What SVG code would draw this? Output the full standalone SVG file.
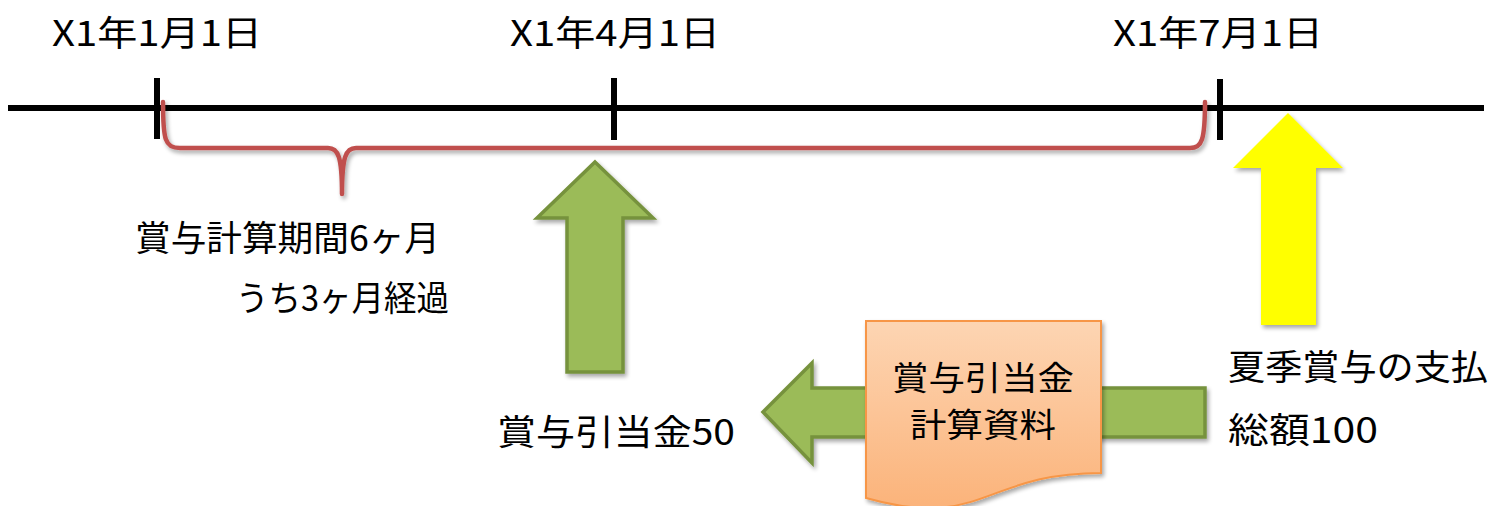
<svg xmlns="http://www.w3.org/2000/svg" width="1492" height="506" viewBox="0 0 1492 506">
<style>
.t{font-family:"Noto Sans CJK JP","Noto Sans",sans-serif;font-size:35px;fill:#000}
.d{font-size:33px}
.g{fill:#9BBB59;stroke:#76923C;stroke-width:3.5;stroke-linejoin:miter}
.axis{stroke:#000;stroke-width:6;fill:none}
</style>
<defs>
<filter id="sh" x="-20%" y="-20%" width="140%" height="140%">
<feGaussianBlur in="SourceAlpha" stdDeviation="2"/>
<feOffset dx="2" dy="3" result="b"/>
<feComponentTransfer><feFuncA type="linear" slope="0.35"/></feComponentTransfer>
<feMerge><feMergeNode/><feMergeNode in="SourceGraphic"/></feMerge>
</filter>
<linearGradient id="doc" x1="0" y1="0" x2="0" y2="1">
<stop offset="0" stop-color="#FDD5B3"/>
<stop offset="1" stop-color="#FBB37A"/>
</linearGradient>
</defs>
<g id="timeline">
<line class="axis" x1="8" y1="108" x2="1484" y2="108"/>
<line class="axis" x1="157" y1="78" x2="157" y2="139"/>
<line class="axis" x1="614" y1="78" x2="614" y2="140"/>
<line class="axis" x1="1220" y1="79" x2="1220" y2="140"/>
</g>
<g id="dates">
<text class="t" x="52" y="46" textLength="210" lengthAdjust="spacingAndGlyphs">X1年1月1日</text>
<text class="t" x="510" y="46" textLength="210" lengthAdjust="spacingAndGlyphs">X1年4月1日</text>
<text class="t" x="1113" y="46" textLength="210" lengthAdjust="spacingAndGlyphs">X1年7月1日</text>
</g>
<g id="brace" filter="url(#sh)">
<path d="M163,102 C163,140 165,148 180,148 H328 C338,148 342,156 342,194 C342,156 346,148 356,148 H1190 C1202,148 1205,140 1205,102" fill="none" stroke="#C0504D" stroke-width="4.5" stroke-linecap="round" stroke-linejoin="round"/>
</g>
<g id="period-label">
<text class="t" x="135" y="251" textLength="305" lengthAdjust="spacingAndGlyphs">賞与計算期間6ヶ月</text>
<text class="t" x="236" y="311" textLength="213" lengthAdjust="spacingAndGlyphs">うち3ヶ月経過</text>
</g>
<g id="connectors">
<path class="g" filter="url(#sh)" d="M595,162 L653,218 L623,218 L623,372 L567,372 L567,218 L537,218 Z"/>
<path class="g" filter="url(#sh)" d="M763,412 L812,363 L812,388 L1205,388 L1205,437 L812,437 L812,463 Z"/>
<path filter="url(#sh)" fill="#FFFF00" d="M1288,113 L1343,168 L1316,168 L1316,325 L1261,325 L1261,168 L1233,168 Z"/>
</g>
<g id="document">
<path filter="url(#sh)" d="M866,321 H1101 V473 C983,473 983,531 866,498 Z" fill="url(#doc)" stroke="#F79646" stroke-width="2"/>
<text class="t d" x="983" y="390" text-anchor="middle" textLength="182" lengthAdjust="spacingAndGlyphs">賞与引当金</text>
<text class="t d" x="983" y="437" text-anchor="middle" textLength="146" lengthAdjust="spacingAndGlyphs">計算資料</text>
</g>
<g id="labels">
<text class="t" x="497" y="445" textLength="238" lengthAdjust="spacingAndGlyphs">賞与引当金50</text>
<text class="t" x="1228" y="380" textLength="260" lengthAdjust="spacingAndGlyphs">夏季賞与の支払</text>
<text class="t" x="1228" y="443" textLength="150" lengthAdjust="spacingAndGlyphs">総額100</text>
</g>
</svg>
